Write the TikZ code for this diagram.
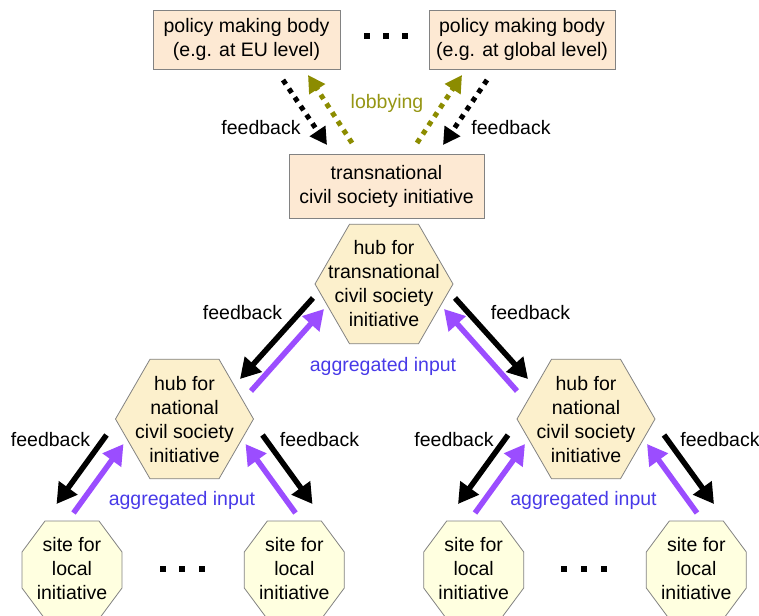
\documentclass[tikz,border=0pt]{standalone}
\usepackage{fontspec}
\setmainfont{Liberation Sans}
\usetikzlibrary{arrows.meta,shapes.geometric,calc}
\definecolor{peach}{RGB}{253,233,211}
\definecolor{hexfill}{RGB}{252,240,204}
\definecolor{octfill}{RGB}{255,255,224}
\definecolor{bordergray}{RGB}{130,130,130}
\definecolor{arrpurple}{RGB}{155,77,255}
\definecolor{txtblue}{RGB}{72,58,232}
\definecolor{olivearr}{RGB}{140,140,0}
\definecolor{olivetxt}{RGB}{150,150,20}
\newcommand\drawocto[1]{\draw[octline] ($(#1)+(-27,-49)$) -- ($(#1)+(27,-49)$) -- ($(#1)+(50,-18)$) -- ($(#1)+(50,18)$) -- ($(#1)+(27,49)$) -- ($(#1)+(-27,49)$) -- ($(#1)+(-50,18)$) -- ($(#1)+(-50,-18)$) -- cycle;}
\begin{document}
\begin{tikzpicture}[x=1pt,y=-1pt,
  font=\fontsize{19.5}{24}\selectfont,
  box/.style={draw=bordergray, line width=0.8pt, fill=peach, align=center, inner sep=0pt},
  hexa/.style={regular polygon, regular polygon sides=6, minimum size=138pt, inner sep=0pt, draw=bordergray, line width=0.8pt, fill=hexfill},
  octline/.style={draw=bordergray, line width=0.8pt, fill=octfill},
  txt/.style={align=center, inner sep=0pt},
  fb/.style={line width=5.5pt, -{Triangle[length=20pt,width=22pt]}, black},
  ag/.style={line width=5.5pt, -{Triangle[length=20pt,width=22pt]}, arrpurple},
  dotfb/.style={line width=5pt, dash pattern=on 5pt off 5.5pt, -{Triangle[length=17pt,width=18pt]}, black},
  dotlob/.style={line width=5pt, dash pattern=on 5pt off 5.5pt, -{Triangle[length=17pt,width=18pt]}, olivearr},
  lbl/.style={inner sep=0pt},
  aglbl/.style={inner sep=0pt, text=txtblue},
  sq/.style={fill=black, minimum size=6.5pt, inner sep=0pt}
]
\useasboundingbox (0,0) rectangle (759,615);

% top boxes
\node[box, minimum width=187pt, minimum height=59pt] (pmEU) at (246.5,39.5) {policy making body\\(e.g. at EU level)};
\node[box, minimum width=186pt, minimum height=59pt] (pmGL) at (522,39.5) {policy making body\\(e.g. at global level)};
\node[sq] (td1) at (367,36) {};
\node[sq] (td2) at (386,36) {};
\node[sq] (td3) at (405,36) {};

\node[box, minimum width=195pt, minimum height=64pt] (trans) at (386.5,186) {transnational\\civil society initiative};

% hexagons
\node[hexa] (hubT) at (384,284) {};
\node[txt] (hubTtxt) at (384,284) {hub for\\transnational\\civil society\\initiative};
\node[hexa] (natL) at (184.5,419) {};
\node[txt] (natLtxt) at (184.5,420) {hub for\\national\\civil society\\initiative};
\node[hexa] (natR) at (586,419) {};
\node[txt] (natRtxt) at (586,420) {hub for\\national\\civil society\\initiative};

% octagons
\coordinate (s1) at (72,570);
\coordinate (s2) at (294.3,570);
\coordinate (s3) at (473.7,570);
\coordinate (s4) at (696.3,570);
\drawocto{s1}\drawocto{s2}\drawocto{s3}\drawocto{s4}
\node[txt] (s1t) at (72,569) {site for\\local\\initiative};
\node[txt] (s2t) at (294.3,569) {site for\\local\\initiative};
\node[txt] (s3t) at (473.7,569) {site for\\local\\initiative};
\node[txt] (s4t) at (696.3,569) {site for\\local\\initiative};
\node[sq, minimum size=6pt] (bl1) at (163,569) {};
\node[sq, minimum size=6pt] (bl2) at (182,569) {};
\node[sq, minimum size=6pt] (bl3) at (202,569) {};
\node[sq, minimum size=6pt] (br1) at (564,569) {};
\node[sq, minimum size=6pt] (br2) at (584,569) {};
\node[sq, minimum size=6pt] (br3) at (604,569) {};

% top dotted arrows
\coordinate (fbL1) at (283,80);  \coordinate (fbL2) at (327,145);
\coordinate (lobL1) at (352,143); \coordinate (lobL2) at (308,75);
\coordinate (lobR1) at (417,143); \coordinate (lobR2) at (462,75);
\coordinate (fbR1) at (487,80);  \coordinate (fbR2) at (443,145);
\draw[dotfb] (fbL1) -- (fbL2);
\draw[dotlob] (lobL1) -- (lobL2);
\draw[dotlob] (lobR1) -- (lobR2);
\draw[dotfb] (fbR1) -- (fbR2);
\node[lbl] (lfbL) at (261,128) {feedback};
\node[lbl, text=olivetxt] (llob) at (387,103) {lobbying};
\node[lbl] (lfbR) at (511,128) {feedback};

% middle arrows
\draw[fb] ($(hubT)+(-71,14)$) -- ($(hubT)+(-144,95)$);
\draw[ag] ($(hubT)+(-133,107)$) -- ($(hubT)+(-60,25)$);
\draw[fb] ($(hubT)+(71,14)$) -- ($(hubT)+(144,95)$);
\draw[ag] ($(hubT)+(133,107)$) -- ($(hubT)+(60,25)$);
\node[lbl] (lfbML) at (242.5,313) {feedback};
\node[lbl] (lfbMR) at (530.5,313) {feedback};
\node[aglbl] (lagM) at (383,366) {aggregated input};

% lower arrows
\foreach \h in {natL,natR}{
  \draw[fb] ($(\h)+(-78,16)$) -- ($(\h)+(-128,85)$);
  \draw[ag] ($(\h)+(-111,94)$) -- ($(\h)+(-61,25)$);
  \draw[fb] ($(\h)+(78,16)$) -- ($(\h)+(128,85)$);
  \draw[ag] ($(\h)+(111,94)$) -- ($(\h)+(61,25)$);
}
\node[lbl] (lfb1) at (50.5,440) {feedback};
\node[lbl] (lfb2) at (319.5,440) {feedback};
\node[lbl] (lfb3) at (454,440) {feedback};
\node[lbl] (lfb4) at (720,440) {feedback};
\node[aglbl] (lag1) at (182,500) {aggregated input};
\node[aglbl] (lag2) at (583.5,500) {aggregated input};
\end{tikzpicture}
\end{document}
